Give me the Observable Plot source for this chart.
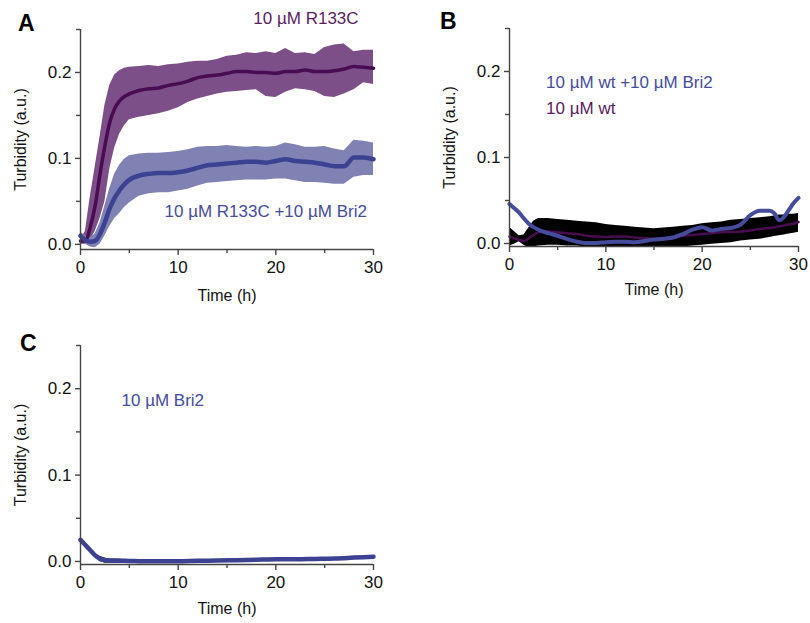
<!DOCTYPE html>
<html>
<head>
<meta charset="utf-8">
<script src="https://cdn.jsdelivr.net/npm/d3@7"></script>
<script src="https://cdn.jsdelivr.net/npm/@observablehq/plot@0.6"></script>
<style>
  html, body { margin: 0; padding: 0; background: #fff; }
  #wrap { position: relative; width: 810px; height: 623px; overflow: hidden; font-family: "Liberation Sans", Arial, sans-serif; }
  #wrap svg { position: absolute; overflow: visible; }
  .letter { position: absolute; font-weight: bold; font-size: 23px; line-height: 1; color: #000; }
</style>
</head>
<body>
<div id="wrap"></div>
<script>
// ---------- Panel A ----------
const tA = [0,0.5,1,1.5,2,2.5,3,3.5,4,4.5,5,6,7,8,9,10,11,12,13,14,15,16,17,18,19,20,21,22,23,24,25,26,27,28,29,30];
const r133cMean = [0.004,0.004,0.02,0.045,0.082,0.115,0.142,0.158,0.167,0.172,0.175,0.179,0.181,0.182,0.185,0.187,0.19,0.194,0.196,0.197,0.199,0.201,0.201,0.2,0.2,0.199,0.201,0.201,0.203,0.201,0.201,0.202,0.204,0.207,0.206,0.205];
const r133cHigh = [0.006,0.015,0.055,0.09,0.125,0.162,0.185,0.197,0.202,0.205,0.206,0.207,0.208,0.207,0.209,0.21,0.212,0.213,0.213,0.215,0.219,0.22,0.223,0.222,0.224,0.222,0.228,0.222,0.223,0.221,0.229,0.232,0.233,0.224,0.226,0.226];
const r133cLow = [0.0,0.0,0.005,0.015,0.03,0.05,0.088,0.112,0.128,0.138,0.145,0.148,0.15,0.152,0.155,0.159,0.165,0.169,0.172,0.175,0.177,0.178,0.179,0.18,0.172,0.171,0.177,0.181,0.18,0.178,0.172,0.171,0.175,0.18,0.188,0.186];
const r133cBri2Mean = [0.01,0.005,0.003,0.004,0.012,0.026,0.042,0.054,0.063,0.07,0.075,0.08,0.082,0.083,0.083,0.084,0.086,0.089,0.092,0.093,0.094,0.095,0.096,0.096,0.095,0.097,0.099,0.097,0.096,0.095,0.093,0.091,0.091,0.101,0.101,0.099];
const r133cBri2High = [0.014,0.01,0.008,0.012,0.025,0.045,0.065,0.082,0.092,0.099,0.103,0.105,0.106,0.106,0.107,0.108,0.11,0.113,0.114,0.114,0.115,0.114,0.113,0.114,0.113,0.114,0.118,0.116,0.113,0.113,0.114,0.111,0.109,0.121,0.12,0.118];
const r133cBri2Low = [0.006,0.0,-0.003,-0.004,0.0,0.01,0.021,0.03,0.036,0.043,0.048,0.056,0.059,0.06,0.06,0.062,0.064,0.068,0.071,0.072,0.073,0.074,0.075,0.075,0.075,0.076,0.076,0.074,0.072,0.072,0.071,0.07,0.07,0.078,0.08,0.08];

// ---------- Panel B ----------
const tB = [0,0.5,1,1.5,2,2.5,3,4,5,6,7,8,9,10,11,12,13,14,15,16,17,18,19,20,21,22,23,24,25,26,27,27.5,28,28.5,29,29.5,30];
const wtMean = [0.008,0.006,0.004,0.003,0.006,0.01,0.013,0.014,0.013,0.012,0.011,0.009,0.008,0.0075,0.008,0.008,0.007,0.006,0.0055,0.006,0.007,0.009,0.01,0.011,0.012,0.013,0.0135,0.014,0.015,0.017,0.018,0.019,0.02,0.021,0.022,0.023,0.025];
const wtHigh = [0.019,0.014,0.009,0.01,0.018,0.026,0.029,0.029,0.028,0.027,0.026,0.025,0.024,0.022,0.021,0.02,0.019,0.018,0.017,0.018,0.019,0.02,0.021,0.023,0.024,0.025,0.027,0.028,0.029,0.03,0.031,0.032,0.033,0.033,0.034,0.034,0.035];
const wtLow = [-0.003,-0.001,0.002,-0.002,-0.005,-0.004,-0.003,-0.002,-0.002,-0.003,-0.003,-0.004,-0.004,-0.004,-0.005,-0.005,-0.006,-0.006,-0.006,-0.005,-0.005,-0.004,-0.003,-0.002,-0.001,0.0,0.001,0.003,0.004,0.005,0.007,0.008,0.009,0.01,0.011,0.012,0.013];
const wtBri2Mean = [0.046,0.041,0.036,0.029,0.023,0.019,0.016,0.012,0.009,0.005,0.002,0.0005,0.0005,0.0015,0.002,0.002,0.0015,0.003,0.0045,0.0055,0.007,0.011,0.016,0.019,0.015,0.017,0.018,0.022,0.033,0.038,0.038,0.035,0.027,0.031,0.039,0.047,0.053];

// ---------- Panel C ----------
const tC = [0,0.5,1,1.5,2,2.5,3,4,5,6,8,10,12,14,16,18,20,22,24,26,28,30];
const bri2Mean = [0.025,0.019,0.013,0.007,0.003,0.0015,0.001,0.0008,0.0006,0.0004,0.0002,0.0003,0.0008,0.001,0.0015,0.002,0.0025,0.0025,0.003,0.0035,0.0045,0.0055];
const bri2High = [0.026,0.02,0.014,0.009,0.006,0.004,0.003,0.003,0.0015,0.0004,0.0002,0.0003,0.0008,0.001,0.0015,0.002,0.0025,0.0025,0.003,0.0035,0.0045,0.0055];
const bri2Low = [0.024,0.018,0.012,0.005,0.0,-0.002,-0.002,-0.002,-0.0005,0.0004,0.0002,0.0003,0.0008,0.001,0.0015,0.002,0.0025,0.0025,0.003,0.0035,0.0045,0.0055];

// ---------- axes / labels ----------
const xMajor = [0, 10, 20, 30];
const xMinor = [5, 15, 25];
const yMajor = [0, 0.1, 0.2];
const yMinor = [0.05, 0.15, 0.25];
const xTitle = "Time (h)";
const yTitle = "Turbidity (a.u.)";

const PURPLE_BAND = "#7d4f88", PURPLE_LINE = "#4a0c50", PURPLE_TEXT = "#5a1d62";
const BLUE_BAND = "#7f82b3", BLUE_LINE = "#3c4191", BLUE_LINE_B = "#464c9c", BLUE_TEXT = "#464c9a";
const AXIS = "#444";
const FONT = "Liberation Sans, Arial, sans-serif";

const rows = (t, cols) => t.map((x, i) => { const o = {t: x}; for (const k in cols) o[k] = cols[k][i]; return o; });

const dataA = rows(tA, {m1: r133cMean, h1: r133cHigh, l1: r133cLow, m2: r133cBri2Mean, h2: r133cBri2High, l2: r133cBri2Low});
const dataB = rows(tB, {m: wtMean, h: wtHigh, l: wtLow, b: wtBri2Mean});
const dataC = rows(tC, {m: bri2Mean, h: bri2High, l: bri2Low});

function axes(yMin, xLabelOffset) {
  return [
    Plot.ruleY([yMin], {x1: xMajor[0], x2: xMajor[xMajor.length - 1], stroke: AXIS, strokeWidth: 1.4}),
    Plot.ruleX([0], {y1: yMin, y2: yMinor[yMinor.length - 1], stroke: AXIS, strokeWidth: 1.4}),
    Plot.axisX({ticks: xMajor, tickSize: 6, tickPadding: 5, stroke: AXIS, strokeWidth: 1.4, fill: "#111", fontSize: 17, label: null}),
    Plot.axisX({ticks: [], fill: "#111", fontSize: 16,
      label: xTitle, labelAnchor: "center", labelArrow: "none", labelOffset: xLabelOffset}),
    Plot.axisX({ticks: xMinor, tickSize: 4, stroke: AXIS, strokeWidth: 1.4, tickFormat: () => "", label: null}),
    Plot.axisY({ticks: yMajor, tickSize: 5, tickPadding: 4, stroke: AXIS, strokeWidth: 1.4, fill: "#111", fontSize: 17,
      tickFormat: d => d.toFixed(1), label: null}),
    Plot.axisY({ticks: [], fill: "#111", fontSize: 16,
      label: yTitle, labelAnchor: "center", labelArrow: "none", labelOffset: 66}),
    Plot.axisY({ticks: yMinor, tickSize: 4, stroke: AXIS, strokeWidth: 1.4, tickFormat: () => "", label: null})
  ];
}

function make(opts, marks) {
  const svg = Plot.plot({
    width: opts.width, height: opts.height,
    marginLeft: opts.ml, marginRight: opts.mr, marginTop: opts.mt, marginBottom: opts.mb,
    style: {fontFamily: FONT, fontSize: "16px", color: "#111", background: "transparent", overflow: "visible"},
    x: {domain: [0, 30]},
    y: {domain: [opts.yMin, 0.25]},
    marks
  });
  svg.style.left = opts.left + "px";
  svg.style.top = opts.top + "px";
  return svg;
}

const wrap = document.getElementById("wrap");

// Panel A
const yMinA = -0.006;
wrap.appendChild(make({left: 0, top: 0, width: 400, height: 310, ml: 80, mr: 27, mt: 29, mb: 61, yMin: yMinA}, [
  Plot.areaY(dataA, {x: "t", y1: "l1", y2: "h1", fill: PURPLE_BAND, clip: true}),
  Plot.areaY(dataA, {x: "t", y1: "l2", y2: "h2", fill: BLUE_BAND, clip: true}),
  Plot.line(dataA, {x: "t", y: "m1", stroke: PURPLE_LINE, strokeWidth: 3.5, curve: "monotone-x"}),
  Plot.line(dataA, {x: "t", y: "m2", stroke: BLUE_LINE, strokeWidth: 4.5, curve: "monotone-x"}),
  ...axes(yMinA, 51),
  Plot.text(["10 µM R133C"], {x: 17.7, y: 0.263, text: d => d, fill: PURPLE_TEXT, fontSize: 17, textAnchor: "start"}),
  Plot.text(["10 µM R133C +10 µM Bri2"], {x: 8.6, y: 0.038, text: d => d, fill: BLUE_TEXT, fontSize: 17, textAnchor: "start"})
]));

// Panel B
const yMinB = -0.0035;
wrap.appendChild(make({left: 429, top: 0, width: 381, height: 310, ml: 80, mr: 12, mt: 28, mb: 64, yMin: yMinB}, [
  Plot.areaY(dataB, {x: "t", y1: "l", y2: "h", fill: "#000", clip: true}),
  Plot.line(dataB, {x: "t", y: "m", stroke: PURPLE_LINE, strokeWidth: 2.5, curve: "monotone-x"}),
  Plot.line(dataB, {x: "t", y: "b", stroke: BLUE_LINE_B, strokeWidth: 4, curve: "monotone-x"}),
  ...axes(yMinB, 48),
  Plot.text(["10 µM wt +10 µM Bri2"], {x: 3.8, y: 0.187, text: d => d, fill: BLUE_TEXT, fontSize: 17, textAnchor: "start"}),
  Plot.text(["10 µM wt"], {x: 3.8, y: 0.157, text: d => d, fill: PURPLE_TEXT, fontSize: 17, textAnchor: "start"})
]));

// Panel C
const yMinC = -0.0035;
wrap.appendChild(make({left: 0, top: 320, width: 400, height: 303, ml: 80, mr: 27, mt: 25, mb: 59, yMin: yMinC}, [
  Plot.areaY(dataC, {x: "t", y1: "l", y2: "h", fill: "#222", clip: true}),
  Plot.line(dataC, {x: "t", y: "m", stroke: BLUE_LINE, strokeWidth: 4.5, curve: "monotone-x"}),
  ...axes(yMinC, 49),
  Plot.text(["10 µM Bri2"], {x: 4.2, y: 0.186, text: d => d, fill: BLUE_TEXT, fontSize: 17, textAnchor: "start"})
]));

// Panel letters
[["A", 18, 12], ["B", 440, 10], ["C", 20, 332]].forEach(([s, x, y]) => {
  const d = document.createElement("div");
  d.className = "letter"; d.textContent = s;
  d.style.left = x + "px"; d.style.top = y + "px";
  wrap.appendChild(d);
});
</script>
</body>
</html>
